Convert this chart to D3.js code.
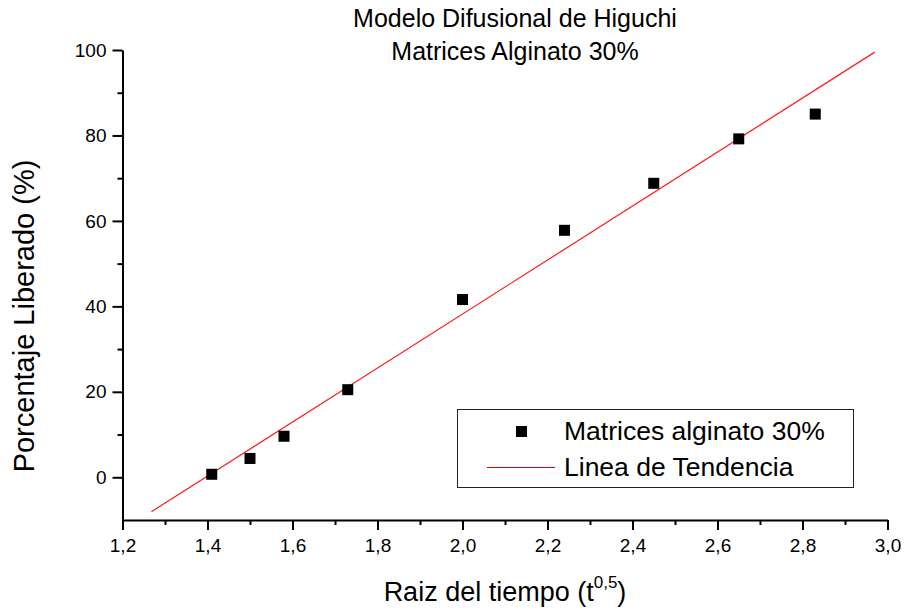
<!DOCTYPE html>
<html>
<head>
<meta charset="utf-8">
<script src="https://cdn.jsdelivr.net/npm/d3@7/dist/d3.min.js"></script>
<style>
  body { margin: 0; background: #fff; }
  svg { display: block; font-family: "Liberation Sans", Arial, sans-serif; }
</style>
</head>
<body>
<svg id="chart" width="905" height="611"></svg>
<script>
// Release data: square root of time vs. percentage released
const sqrtTime = [1.41, 1.50, 1.58, 1.73, 2.00, 2.24, 2.45, 2.65, 2.83];
const released = [0.7, 4.4, 9.6, 20.5, 41.6, 57.8, 68.8, 79.2, 85.0];

// Linear trend line: y = slope * x + intercept, drawn over [trendFrom, trendTo]
const trendSlope = 63.2;
const trendIntercept = -88.2;
const trendFrom = 1.268;
const trendTo = 2.970;

const xTicks = [1.2, 1.4, 1.6, 1.8, 2.0, 2.2, 2.4, 2.6, 2.8, 3.0];
const yTicks = [0, 20, 40, 60, 80, 100];
const titleLines = ["Modelo Difusional de Higuchi", "Matrices Alginato 30%"];
const legendLabels = ["Matrices alginato 30%", "Linea de Tendencia"];

const FONT = "Liberation Sans, Arial, sans-serif";
const svg = d3.select("#chart");
const x = d3.scaleLinear().domain([1.2, 3.0]).range([122.5, 887.5]);
const y = d3.scaleLinear().domain([-10, 100]).range([520, 50]);

const fmt = d => d3.format(".1f")(d).replace(".", ",");

// Minor ticks
const g = svg.append("g");
const xMinor = d3.range(12, 31).map(v => v / 10).filter(v => !xTicks.some(t => Math.abs(t - v) < 1e-9));
const yMinor = d3.range(-10, 101, 10).filter(v => !yTicks.includes(v) && v !== -10);

g.append("g").attr("transform", `translate(0,${y(-10)})`)
  .call(d3.axisBottom(x).tickValues(xMinor).tickSize(5).tickFormat(""))
  .call(a => a.select(".domain").remove())
  .call(a => a.selectAll("line").attr("stroke-width", 2));
g.append("g").attr("transform", `translate(${x(1.2)},0)`)
  .call(d3.axisLeft(y).tickValues(yMinor).tickSize(5).tickFormat(""))
  .call(a => a.select(".domain").remove())
  .call(a => a.selectAll("line").attr("stroke-width", 2));

// Major axes
const xAxis = g.append("g").attr("transform", `translate(0,${y(-10)})`)
  .call(d3.axisBottom(x).tickValues(xTicks).tickSize(10).tickSizeOuter(0).tickFormat(fmt).tickPadding(6));
const yAxis = g.append("g").attr("transform", `translate(${x(1.2)},0)`)
  .call(d3.axisLeft(y).tickValues(yTicks).tickSize(10).tickSizeOuter(0).tickPadding(6));
[xAxis, yAxis].forEach(a => {
  a.attr("font-size", 19).attr("font-family", FONT);
  a.select(".domain").attr("stroke-width", 2);
  a.selectAll("line").attr("stroke-width", 2);
  a.selectAll("text").attr("fill", "#000");
});
xAxis.selectAll("text").attr("dy", "0.85em");

// Trend line
svg.append("line")
  .attr("x1", x(trendFrom)).attr("y1", y(trendSlope * trendFrom + trendIntercept))
  .attr("x2", x(trendTo)).attr("y2", y(trendSlope * trendTo + trendIntercept))
  .attr("stroke", "#ff1a1a").attr("stroke-width", 1.2);

// Data points
const sq = 11;
svg.append("g").selectAll("rect")
  .data(sqrtTime.map((t, i) => [t, released[i]]))
  .join("rect")
  .attr("x", d => x(d[0]) - sq / 2)
  .attr("y", d => y(d[1]) - sq / 2)
  .attr("width", sq).attr("height", sq)
  .attr("fill", "#000");

// Title
svg.append("g").selectAll("text").data(titleLines).join("text")
  .attr("x", 515).attr("y", (d, i) => 27 + i * 33)
  .attr("text-anchor", "middle").attr("font-size", 25).attr("fill", "#000")
  .text(d => d);

// Axis titles
svg.append("text")
  .attr("transform", "translate(34,316) rotate(-90)")
  .attr("text-anchor", "middle").attr("font-size", 29).attr("fill", "#000")
  .text("Porcentaje Liberado (%)");

const xt = svg.append("text")
  .attr("x", 505).attr("y", 601)
  .attr("text-anchor", "middle").attr("font-size", 27).attr("fill", "#000");
xt.append("tspan").text("Raiz del tiempo (t");
xt.append("tspan").attr("font-size", 17).attr("dy", -13).text("0,5");
xt.append("tspan").attr("dy", 13).text(")");

// Legend
const lg = svg.append("g");
lg.append("rect").attr("x", 457.5).attr("y", 409.5).attr("width", 396).attr("height", 78)
  .attr("fill", "#fff").attr("stroke", "#222").attr("stroke-width", 1);
lg.append("rect").attr("x", 516).attr("y", 426).attr("width", 11).attr("height", 11).attr("fill", "#000");
lg.append("line").attr("x1", 487).attr("x2", 555).attr("y1", 467.5).attr("y2", 467.5)
  .attr("stroke", "#e00000").attr("stroke-width", 1);
lg.selectAll("text.lab").data(legendLabels).join("text")
  .attr("class", "lab")
  .attr("x", 564).attr("y", (d, i) => 440 + i * 36)
  .attr("font-size", 26.5).attr("fill", "#000")
  .text(d => d);
</script>
</body>
</html>
